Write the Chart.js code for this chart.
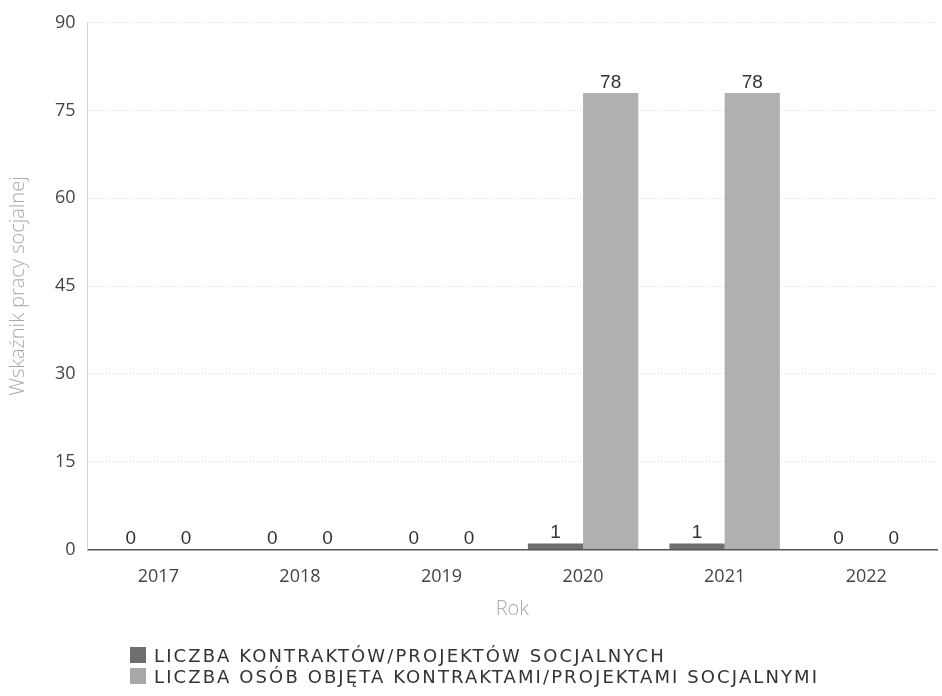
<!DOCTYPE html>
<html>
<head>
<meta charset="utf-8">
<script src="https://cdn.jsdelivr.net/npm/chart.js@4/dist/chart.umd.min.js"></script>
<style>
    body { margin: 0; background: #fff; }
    #wrap { position: relative; width: 942px; height: 696px; }
    #legend { position: absolute; left: 130px; top: 645px; font-family: "DejaVu Sans", sans-serif; font-size: 18px; color: #333; }
    #legend div { height: 21px; line-height: 21px; letter-spacing: 2.1px; white-space: nowrap; }
    #legend span { display: inline-block; width: 16px; height: 16px; margin-right: 8px; vertical-align: -1px; }
</style>
</head>
<body>
<div id="wrap">
    <canvas id="chart-1" width="942" height="696"></canvas>
    <div id="legend"></div>
</div>
<script>
let years = ['2017', '2018', '2019', '2020', '2021', '2022'];
let kontrakty = [0, 0, 0, 1, 1, 0];
let osoby = [0, 0, 0, 78, 78, 0];
let seriesNames = ['LICZBA KONTRAKTÓW/PROJEKTÓW SOCJALNYCH', 'LICZBA OSÓB OBJĘTA KONTRAKTAMI/PROJEKTAMI SOCJALNYMI'];
let seriesColors = ['#6f6f6f', '#b0b0b0'];
let legendColors = ['#6e6e6e', '#a8a8a8'];

// values written above each bar
let valueLabels = {
    id: 'valueLabels',
    afterDatasetsDraw(chart) {
        let ctx = chart.ctx;
        ctx.save();
        ctx.font = '19px "Liberation Sans", Arial, sans-serif';
        ctx.fillStyle = '#333';
        ctx.textAlign = 'center';
        ctx.textBaseline = 'bottom';
        chart.data.datasets.forEach((ds, i) => {
            chart.getDatasetMeta(i).data.forEach((bar, j) => {
                ctx.fillText(ds.data[j], bar.x, bar.y - 1);
            });
        });
        ctx.restore();
    }
};

let chart_1 = document.getElementById('chart-1');
let tickFont = { family: '"Open Sans", sans-serif', size: 18 };
let titleFont = { family: '"Open Sans", sans-serif', size: 20, weight: '300' };

new Chart(chart_1, {
    type: 'bar',
    data: {
        labels: years,
        datasets: [{
            label: seriesNames[0],
            data: kontrakty,
            backgroundColor: seriesColors[0],
            categoryPercentage: 0.78,
            barPercentage: 1
        }, {
            label: seriesNames[1],
            data: osoby,
            backgroundColor: seriesColors[1],
            categoryPercentage: 0.78,
            barPercentage: 1
        }]
    },
    options: {
        responsive: false,
        animation: false,
        layout: { padding: { left: 6, right: 5, top: 14, bottom: 75 } },
        plugins: {
            legend: { display: false },
            tooltip: { enabled: false }
        },
        scales: {
            x: {
                grid: { display: false },
                border: { color: '#555', width: 1.5 },
                ticks: { color: '#444', padding: 9, font: tickFont },
                title: { display: true, text: 'Rok', color: '#aaa', padding: { top: 0, bottom: 0 }, font: titleFont }
            },
            y: {
                min: 0,
                max: 90,
                ticks: { stepSize: 15, color: '#444', padding: 12, font: tickFont },
                grid: { color: '#d8d8d8', drawTicks: false },
                border: { color: '#d4d4d4', dash: [1, 2] },
                title: { display: true, text: 'Wskaźnik pracy socjalnej', color: '#aaa', padding: { top: 0, bottom: 13 }, font: titleFont }
            }
        }
    },
    plugins: [valueLabels]
});

let legend = '';
seriesNames.forEach((name, i) => {
    legend += `<div><span style="background:${legendColors[i]}"></span>${name}</div>`;
});
document.getElementById('legend').innerHTML = legend;
</script>
</body>
</html>
